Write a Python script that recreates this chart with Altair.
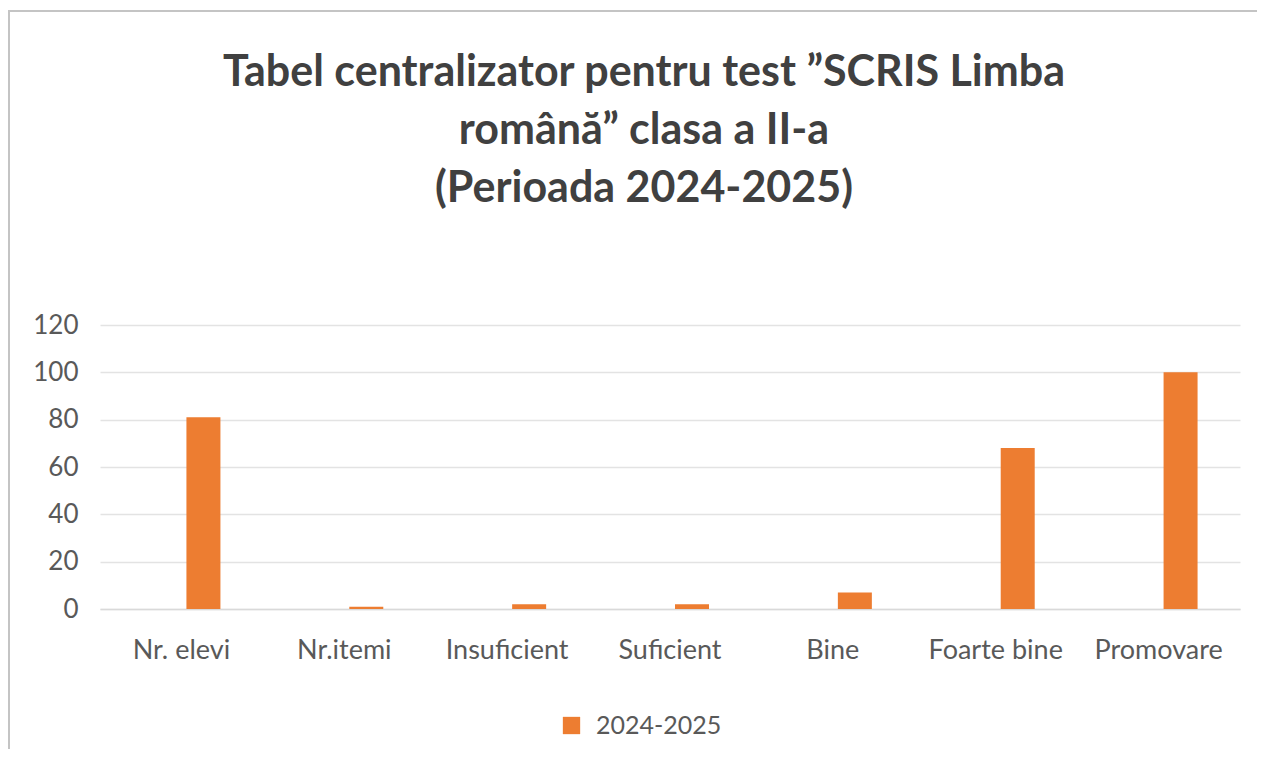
import altair as alt
import pandas as pd

categories = ["Nr. elevi", "Nr.itemi", "Insuficient", "Suficient", "Bine", "Foarte bine", "Promovare"]
values = [81, 1, 2, 2, 7, 68, 100]
series_name = "2024-2025"
y_ticks = [0, 20, 40, 60, 80, 100, 120]
title_lines = ["Tabel centralizator pentru test \u201dSCRIS Limba", "rom\u00e2n\u0103\u201d clasa a II-a", "(Perioada 2024-2025)"]

df = pd.DataFrame({"cat": categories, "val": values, "series": [series_name] * len(categories)})

FONT = "Lato"
TXT = "#595959"
ORANGE = "#ED7D31"
W, H = 1140, 284

bars = alt.Chart(df).mark_bar(size=34, xOffset=22, color=ORANGE).encode(
    x=alt.X("cat:N", sort=categories,
            scale=alt.Scale(paddingInner=0, paddingOuter=0),
            axis=alt.Axis(title=None, labelAngle=0, ticks=False, labelFont=FONT, labelFontSize=27,
                          labelColor=TXT, labelPadding=28, domainColor="#d9d9d9", domainWidth=1.5)),
    y=alt.Y("val:Q", scale=alt.Scale(domain=[0, 120], nice=False),
            axis=alt.Axis(title=None, values=y_ticks, domain=False, ticks=False, labelFont=FONT,
                          labelFontSize=26, labelColor=TXT, labelPadding=22, gridColor="#e3e3e3",
                          gridWidth=1.5)),
    color=alt.Color("series:N", scale=alt.Scale(domain=[series_name], range=[ORANGE]),
                    legend=alt.Legend(orient="none", legendX=459, legendY=388, title=None,
                                      symbolType="square", symbolSize=300, symbolStrokeWidth=0,
                                      labelFont=FONT, labelFontSize=25, labelColor=TXT,
                                      labelOffset=12)),
)

frame = alt.Chart(alt.Data(values=[{}])).mark_rule(color="#c4c4c4", strokeWidth=2).encode(
    x=alt.value(-92), x2=alt.value(W + 17), y=alt.value(-314)
)
frame_left = alt.Chart(alt.Data(values=[{}])).mark_rule(color="#c4c4c4", strokeWidth=2).encode(
    x=alt.value(-91), y=alt.value(-314), y2=alt.value(H + 140)
)

chart = alt.layer(frame, frame_left, bars).properties(
    width=W, height=H,
    padding={"left": 92, "top": 317, "right": 17, "bottom": 140},
    autosize=alt.AutoSizeParams(type="none"),
    title=alt.TitleParams(text=title_lines, font=FONT, fontSize=43, fontWeight="bold", color="#404040",
                          lineHeight=58, anchor="middle", dx=-26, offset=-201),
).configure_view(stroke=None)

chart.save("out.html", embed_options={"renderer": "svg", "actions": False})
